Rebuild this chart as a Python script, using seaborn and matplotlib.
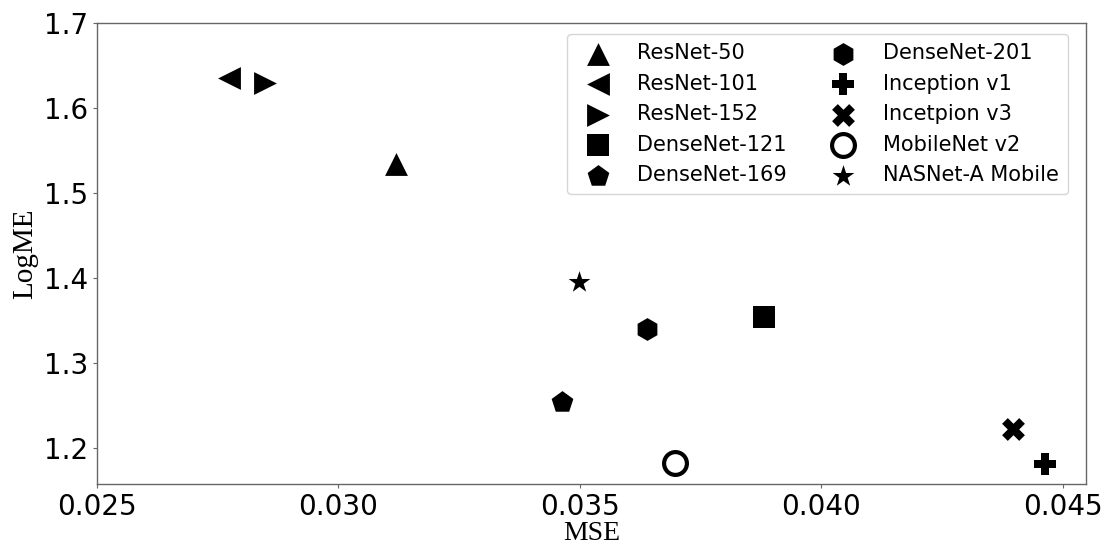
import matplotlib
matplotlib.use('Agg')
import matplotlib.pyplot as plt
import seaborn as sns

models = ['ResNet-50', 'ResNet-101', 'ResNet-152', 'DenseNet-121', 'DenseNet-169',
          'DenseNet-201', 'Inception v1', 'Incetpion v3', 'MobileNet v2', 'NASNet-A Mobile']
mse = [0.03119, 0.02773, 0.02848, 0.03882, 0.03463,
       0.03639, 0.04464, 0.04397, 0.03697, 0.03498]
logme = [1.534, 1.635, 1.629, 1.354, 1.254,
         1.340, 1.181, 1.222, 1.182, 1.395]
markers = ['^', '<', '>', 's', 'p', 'h', 'P', 'X', 'o', '*']

sns.set_style('ticks', {'axes.edgecolor': '0.4'})
plt.rcParams['text.color'] = 'black'
plt.rcParams['axes.labelcolor'] = 'black'

fig = plt.figure(figsize=(11.05, 5.44), dpi=100)
ax = fig.add_axes([0.0878, 0.1103, 0.8950, 0.8474])

for name, x, y, m in zip(models, mse, logme, markers):
    if m == 'o':
        sns.scatterplot(x=[x], y=[y], marker=m, s=270, facecolor='white',
                        edgecolor='black', linewidth=3, label=name, ax=ax)
    else:
        sns.scatterplot(x=[x], y=[y], marker=m, s=270, color='black',
                        edgecolor='black', linewidth=0, label=name, ax=ax)

ax.set_xlim(0.025, 0.04548)
ax.set_ylim(1.1576, 1.7)
ax.set_xticks([0.025, 0.030, 0.035, 0.040, 0.045])
ax.set_xticklabels(['0.025', '0.030', '0.035', '0.040', '0.045'])
ax.set_yticks([1.2, 1.3, 1.4, 1.5, 1.6, 1.7])
ax.set_yticklabels(['1.2', '1.3', '1.4', '1.5', '1.6', '1.7'])
ax.tick_params(labelsize=20, length=3, width=0.8, color='0.4', labelcolor='black')
for sp in ax.spines.values():
    sp.set_linewidth(1.0)

ax.set_xlabel('MSE', family='Liberation Serif', fontsize=20, labelpad=0)
ax.set_ylabel('LogME', family='Liberation Serif', fontsize=21, labelpad=4)

leg = ax.legend(ncol=2, fontsize=15, loc='upper right', bbox_to_anchor=(0.9818, 0.9761),
                borderaxespad=0, handletextpad=0.9, columnspacing=1.7,
                labelspacing=0.5, borderpad=0.45)
for t in leg.get_texts():
    t.set_color('black')

fig.savefig('out.png', dpi=100)
